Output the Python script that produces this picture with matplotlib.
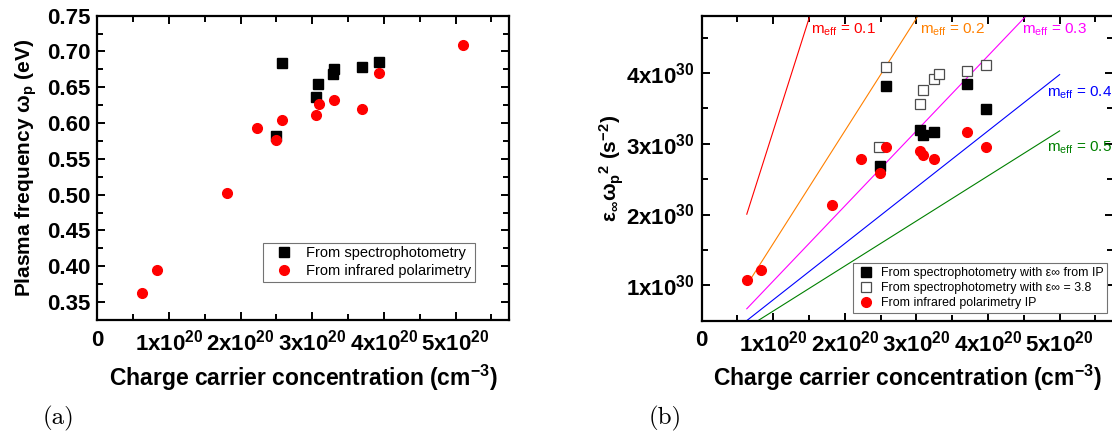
import numpy as np
import matplotlib
matplotlib.use('agg')
import matplotlib.pyplot as plt
from matplotlib.ticker import MultipleLocator, FuncFormatter

plt.rcParams['font.family'] = ['Liberation Sans', 'DejaVu Sans']
plt.rcParams['mathtext.default'] = 'regular'

# (a) plasma frequency vs carrier concentration
n_spec_a = np.array([2.49, 2.58, 3.05, 3.08, 3.29, 3.31, 3.70, 3.93]) * 1e20
wp_spec = [0.582, 0.684, 0.637, 0.655, 0.668, 0.675, 0.678, 0.686]
n_ip_a = np.array([0.63, 0.83, 1.81, 2.23, 2.49, 2.58, 3.05, 3.09, 3.30, 3.70, 3.93, 5.10]) * 1e20
wp_ip = [0.362, 0.395, 0.503, 0.593, 0.576, 0.605, 0.611, 0.626, 0.632, 0.620, 0.670, 0.709]

# (b) eps_inf * wp^2 (units 1e30 s^-2)
n_fill = np.array([2.49, 2.57, 3.05, 3.09, 3.24, 3.70, 3.97]) * 1e20
y_fill = np.array([2.69, 3.82, 3.20, 3.13, 3.17, 3.84, 3.49]) * 1e30
n_open = np.array([2.48, 2.58, 3.05, 3.09, 3.24, 3.31, 3.70, 3.97]) * 1e20
y_open = np.array([2.96, 4.09, 3.56, 3.76, 3.91, 3.99, 4.03, 4.12]) * 1e30
n_ip_b = np.array([0.63, 0.83, 1.82, 2.23, 2.49, 2.58, 3.05, 3.09, 3.24, 3.70, 3.97]) * 1e20
y_ip_b = np.array([1.08, 1.21, 2.13, 2.79, 2.59, 2.95, 2.90, 2.84, 2.79, 3.16, 2.95]) * 1e30

# effective mass lines: eps*wp^2 = n e^2 / (eps0 m_eff m_e)
m_eff = [0.1, 0.2, 0.3, 0.4, 0.5]
m_colors = ['#ff0000', '#ff8000', '#ff00ff', '#0000ff', '#008000']
n_line = np.array([0.63e20, 5.0e20])
e, eps0, me = 1.602e-19, 8.854e-12, 9.109e-31
lab_pos = [(1.53e20, 4.56e30), (3.05e20, 4.56e30), (4.48e20, 4.56e30),
           (4.83e20, 3.67e30), (4.83e20, 2.89e30)]

fig = plt.figure(figsize=(11.12, 4.36), dpi=100)
ax1 = fig.add_axes([0.0875, 0.2661, 0.3705, 0.6979])
ax2 = fig.add_axes([0.6310, 0.2645, 0.3702, 0.6995])


def xfmt(v, pos):
    k = int(round(v / 1e20))
    return '0' if k == 0 else '%dx10$^{20}$' % k


def style(ax):
    for s in ax.spines.values():
        s.set_linewidth(1.6)
    ax.tick_params(which='both', direction='in', top=True, right=True, width=1.4)
    ax.tick_params(which='major', length=6, labelsize=16)
    ax.tick_params(axis='x', which='major', pad=7)
    ax.tick_params(axis='y', which='major', pad=5)
    ax.tick_params(which='minor', length=4)
    ax.xaxis.set_major_locator(MultipleLocator(1e20))
    ax.xaxis.set_minor_locator(MultipleLocator(0.5e20))
    ax.xaxis.set_major_formatter(FuncFormatter(xfmt))
    ax.set_xlim(0, 5.75e20)
    ax.set_xlabel('Charge carrier concentration (cm$^{-3}$)', fontsize=16.5,
                  fontweight='bold', labelpad=5)


# --- panel (a)
ax1.plot(n_spec_a, wp_spec, 's', color='black', ms=6.5, label='From spectrophotometry')
ax1.plot(n_ip_a, wp_ip, 'o', color='red', ms=7, label='From infrared polarimetry')
ax1.set_ylim(0.325, 0.75)
ax1.yaxis.set_major_locator(MultipleLocator(0.05))
ax1.yaxis.set_minor_locator(MultipleLocator(0.025))
ax1.yaxis.set_major_formatter(FuncFormatter(lambda v, p: '%.2f' % v))
ax1.set_ylabel('Plasma frequency ω$_p$ (eV)', fontsize=15, fontweight='bold', labelpad=6)
style(ax1)
leg1 = ax1.legend(loc='upper left', bbox_to_anchor=(0.403, 0.254), fontsize=10.5,
                  frameon=True, fancybox=False, edgecolor='0.45', framealpha=1,
                  borderpad=0.25, handlelength=2.4, handletextpad=0.3,
                  labelspacing=0.25, borderaxespad=0, numpoints=1)
leg1.get_frame().set_linewidth(0.8)

# --- panel (b)
for m, c, (tx, ty) in zip(m_eff, m_colors, lab_pos):
    ax2.plot(n_line, n_line * 1e6 * e**2 / (eps0 * me * m), color=c, lw=0.8)
    ax2.text(tx, ty, 'm$_{eff}$ = %.1f' % m, color=c, fontsize=11, clip_on=False)
ax2.plot(n_fill, y_fill, 's', color='black', ms=6.5,
         label='From spectrophotometry with ε∞ from IP')
ax2.plot(n_open, y_open, 's', mfc='white', mec='0.3', mew=0.9, ms=6.5,
         label='From spectrophotometry with ε∞ = 3.8')
ax2.plot(n_ip_b, y_ip_b, 'o', color='red', ms=7, label='From infrared polarimetry IP')
ax2.set_ylim(0.5e30, 4.81e30)
ax2.yaxis.set_major_locator(MultipleLocator(1e30))
ax2.yaxis.set_minor_locator(MultipleLocator(0.5e30))
ax2.yaxis.set_major_formatter(FuncFormatter(lambda v, p: '%dx10$^{30}$' % round(v / 1e30)))
ax2.set_ylabel('ε$_\\infty$ω$_p$$^2$ (s$^{-2}$)', fontsize=15, fontweight='bold', labelpad=0)
style(ax2)
for ax in (ax1, ax2):
    for t in ax.get_xticklabels() + ax.get_yticklabels():
        t.set_fontweight('bold')
leg2 = ax2.legend(loc='upper left', bbox_to_anchor=(0.367, 0.188), fontsize=8.9,
                  frameon=True, fancybox=False, edgecolor='0.45', framealpha=1,
                  borderpad=0.3, handlelength=1.6, handletextpad=0.35,
                  labelspacing=0.25, borderaxespad=0, numpoints=1)
leg2.get_frame().set_linewidth(0.8)

fig.text(0.0387, 0.012, '(a)', family='cmr10', fontsize=18, va='bottom')
fig.text(0.583, 0.012, '(b)', family='cmr10', fontsize=18, va='bottom')

fig.savefig('out.png', dpi=100)
